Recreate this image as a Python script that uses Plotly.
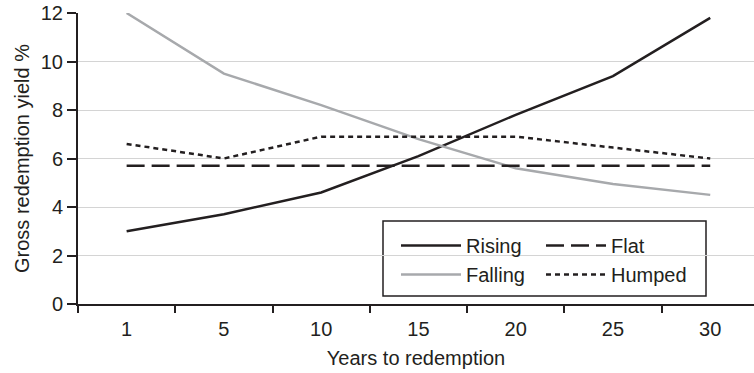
import plotly.graph_objects as go

years = ["1", "5", "10", "15", "20", "25", "30"]
rising = [3.0, 3.7, 4.6, 6.1, 7.8, 9.4, 11.8]
falling = [12.0, 9.5, 8.2, 6.8, 5.6, 4.95, 4.5]
flat = [5.7, 5.7, 5.7, 5.7, 5.7, 5.7, 5.7]
humped = [6.6, 6.0, 6.9, 6.9, 6.9, 6.45, 6.0]

FONT = "Liberation Sans, Arial, sans-serif"
BLACK = "#231f20"
GREY = "#a7a9ac"
FS = 20

fig = go.Figure()
fig.add_trace(go.Scatter(x=years, y=rising, name="Rising", mode="lines",
                         line=dict(color=BLACK, width=2.5), legend="legend"))
fig.add_trace(go.Scatter(x=years, y=falling, name="Falling", mode="lines",
                         line=dict(color=GREY, width=2.5), legend="legend"))
fig.add_trace(go.Scatter(x=years, y=flat, name="Flat", mode="lines",
                         line=dict(color=BLACK, width=2.5, dash="18px,7px"), legend="legend2"))
fig.add_trace(go.Scatter(x=years, y=humped, name="Humped", mode="lines",
                         line=dict(color=BLACK, width=2.5, dash="5px,4px"), legend="legend2"))

fig.update_layout(
    width=754, height=373,
    margin=dict(l=78, r=0, t=13, b=69),
    paper_bgcolor="white", plot_bgcolor="white",
    font=dict(family=FONT, size=FS, color=BLACK),
    xaxis=dict(
        type="category", range=[-0.5, 6.45],
        tickson="boundaries", ticks="outside", ticklen=7, tickcolor=BLACK, tickwidth=1.5,
        showline=True, linecolor=BLACK, linewidth=2,
        showgrid=False, zeroline=False, tickfont=dict(size=FS),
        ticklabelstandoff=6,
        title=dict(text="Years to redemption", font=dict(size=FS), standoff=12),
    ),
    yaxis=dict(
        range=[0, 12], dtick=2, ticks="outside", ticklen=9, tickcolor=BLACK, tickwidth=1.5,
        showline=True, linecolor=BLACK, linewidth=2,
        showgrid=True, gridcolor="#d4d4d4", gridwidth=1, zeroline=False,
        tickfont=dict(size=FS),
        title=dict(text="Gross redemption yield %", font=dict(size=FS), standoff=6),
    ),
    legend=dict(x=(396-78)/676, y=(304-226)/291, xanchor="left", yanchor="top",
                bgcolor="rgba(0,0,0,0)", font=dict(size=FS),
                tracegroupgap=0, itemwidth=60),
    legend2=dict(x=(541-78)/676, y=(304-226)/291, xanchor="left", yanchor="top",
                 bgcolor="rgba(0,0,0,0)", font=dict(size=FS),
                 tracegroupgap=0, itemwidth=60),
    shapes=[dict(type="rect", xref="paper", yref="paper",
                 x0=(383-78)/676, x1=(706-78)/676,
                 y0=(304-296)/291, y1=(304-221)/291,
                 line=dict(color=BLACK, width=1.5), fillcolor="white", layer="below")],
    showlegend=True,
)

fig.write_html("out.html")
